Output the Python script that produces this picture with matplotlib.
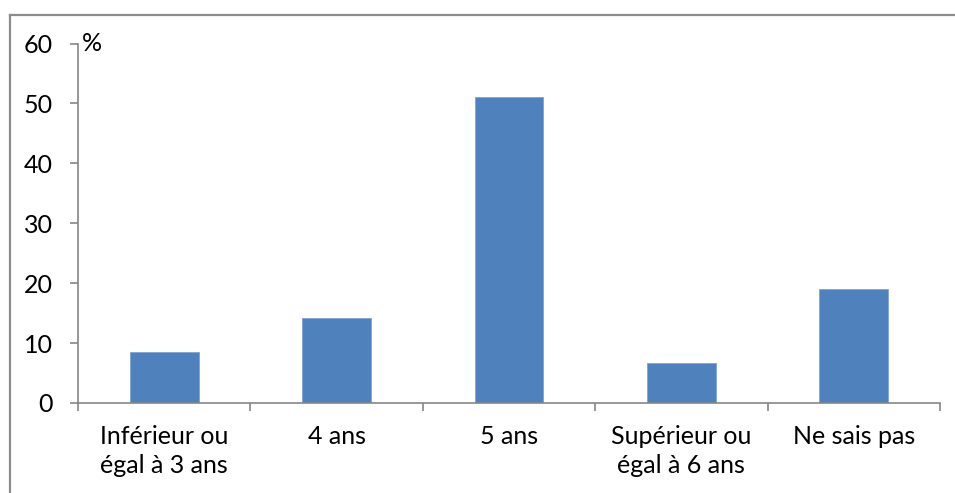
import matplotlib.pyplot as plt
from matplotlib.lines import Line2D

categories = ["Inférieur ou\négal à 3 ans", "4 ans", "5 ans", "Supérieur ou\négal à 6 ans", "Ne sais pas"]
values = [8.5, 14.2, 51.1, 6.6, 19.1]
yticks = [0, 10, 20, 30, 40, 50, 60]

plt.rcParams['font.family'] = ['Lato', 'DejaVu Sans']

W, H = 955, 493
fig = plt.figure(figsize=(W / 100, H / 100), dpi=100)
ax = fig.add_axes([78 / W, (H - 403) / H, (940 - 78) / W, (403 - 43.5) / H])

x = list(range(len(categories)))
ax.bar(x, values, width=0.4, color='#4F81BD', edgecolor='#7FA3D0', linewidth=0.6)

ax.set_xlim(-0.5, len(categories) - 0.5)
ax.set_ylim(0, 60)
ax.set_yticks(yticks)
ax.set_yticklabels([str(v) for v in yticks], fontsize=18)

# category ticks sit between bars, labels under bar centres
ax.set_xticks([i - 0.5 for i in range(len(categories) + 1)])
ax.set_xticklabels([])
ax.set_xticks(x, minor=True)
ax.set_xticklabels(categories, minor=True, fontsize=18, linespacing=1.28)
ax.tick_params(axis='x', which='minor', length=0, pad=16)
ax.tick_params(axis='x', which='major', length=6, color='#868686', width=1.2)
ax.tick_params(axis='y', length=6, color='#868686', width=1.2, pad=12)

for side in ['top', 'right']:
    ax.spines[side].set_visible(False)
for side in ['left', 'bottom']:
    ax.spines[side].set_color('#868686')
    ax.spines[side].set_linewidth(1.2)

ax.text(0.004, 1.0, '%', transform=ax.transAxes, fontsize=18, va='center', ha='left')

# outer chart border (top and left visible)
fig.add_artist(Line2D([9.5 / W, 1], [1 - 14.5 / H, 1 - 14.5 / H], transform=fig.transFigure,
                      color='#8c8c8c', linewidth=1.6))
fig.add_artist(Line2D([9.5 / W, 9.5 / W], [0, 1 - 14.5 / H], transform=fig.transFigure,
                      color='#8c8c8c', linewidth=1.6))

fig.savefig('out.png', dpi=100)
